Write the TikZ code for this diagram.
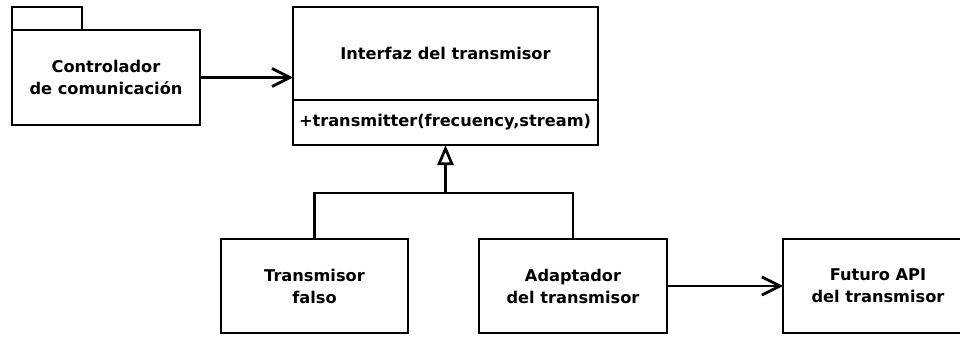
\documentclass[tikz,border=0pt]{standalone}
\usepackage{fontspec}
\setmainfont{DejaVu Sans}
\usepackage{tikz}
\usetikzlibrary{positioning}
\usetikzlibrary{arrows.meta}

\begin{document}
\begin{tikzpicture}[x=1pt,y=-1pt,line width=2.7pt,-{Straight Barb[length=18pt,width=18pt]}]
        \tikzset{box/.style={shape=rectangle,draw,align=center,inner sep=0pt,outer sep=0pt,font=\fontsize{16.2}{22}\selectfont\bfseries}}
        \tikzset{gen/.style={-{Triangle[open,length=20pt,width=16pt,fill=white]}}}
        \useasboundingbox (0,0) rectangle (960,337);

        \node[box,minimum width=188,minimum height=95] (pkg) at (106,77.5) {Controlador\\de comunicación};
        \node[box,minimum width=70,minimum height=23,above right=0pt and 0pt of pkg.north west] (tab) {};
        \node[box,minimum width=305,minimum height=93] (ifhead) at (445.5,53.5) {Interfaz del transmisor};
        \node[box,minimum width=305,minimum height=45,text width=293,align=left,below=0pt of ifhead] (ifops) {+transmitter(frecuency,stream)};
        \node[box,minimum width=187,minimum height=94] (fake) at (314.5,286) {Transmisor\\falso};
        \node[box,minimum width=188,minimum height=94] (adapter) at (573,286) {Adaptador\\del transmisor};
        \node[box,minimum width=190,minimum height=94] (future) at (878,286) {Futuro API\\del transmisor};
        \coordinate (fork) at (445.5,193);

        \draw (pkg) -- (pkg -| ifhead.west);
        \draw[-] (fake) |- (fork) -| (adapter);
        \draw[gen] (fork) -- (ifops);
        \path (adapter) edge (future);
    \end{tikzpicture}
\end{document}
